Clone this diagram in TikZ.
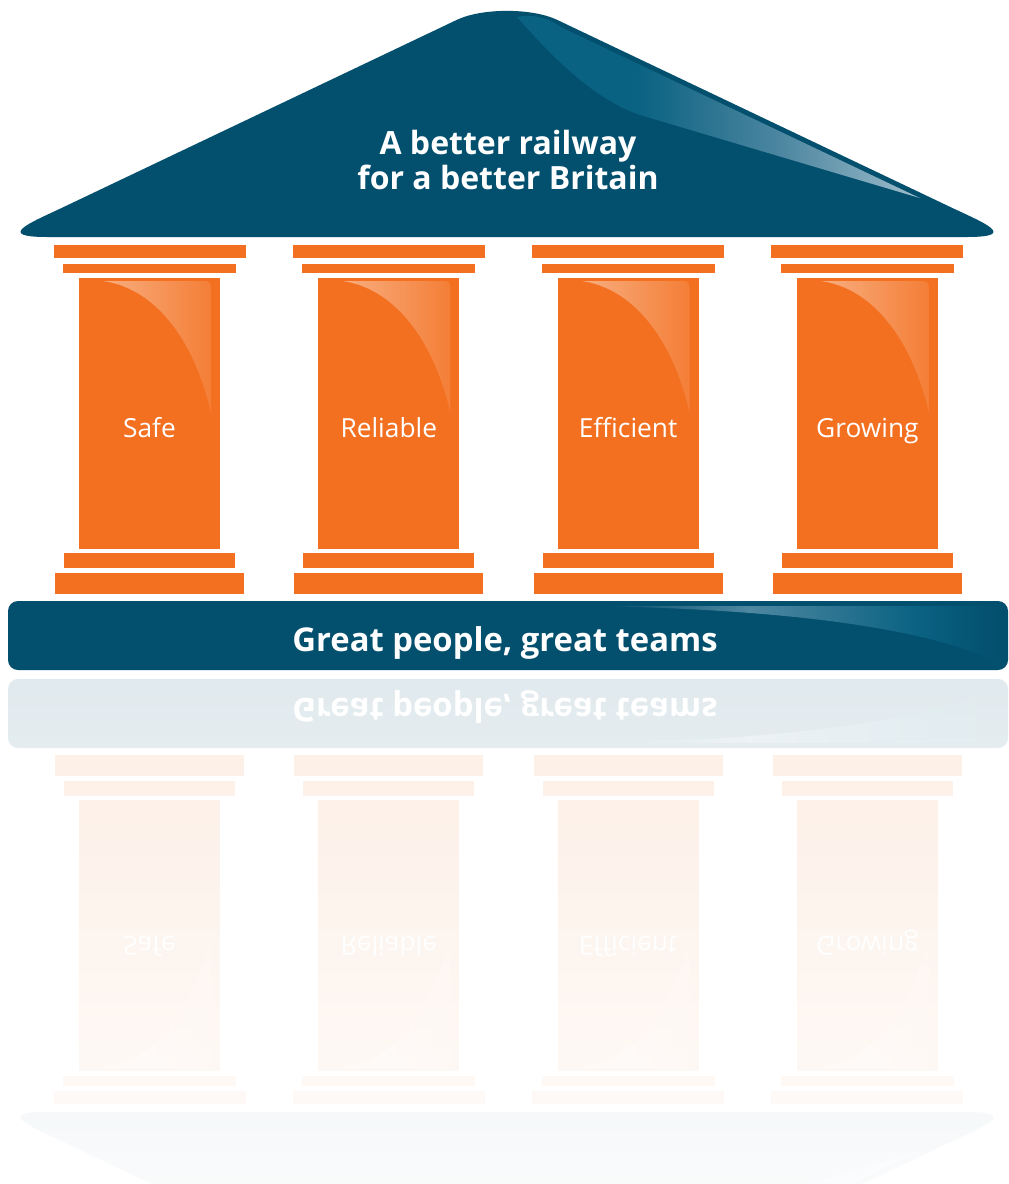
\documentclass[tikz,border=0pt]{standalone}
\usepackage{fontspec}
\setmainfont{Open Sans}
\usetikzlibrary{fadings}

% base palette
\definecolor{baseBlue}{HTML}{034F6E}
\definecolor{baseOrange}{HTML}{F37021}
\definecolor{baseShineTeal}{HTML}{0A6282}
\definecolor{baseShineGrey}{HTML}{4E87A1}
\definecolor{baseShineLight}{HTML}{9EBDCB}
\definecolor{basePeach}{HTML}{F8AE80}
\definecolor{basePeachEnd}{HTML}{F47E36}

% working palette, washed towards white by #1 percent
\newcommand\setpalette[1]{%
  \colorlet{nrBlue}{baseBlue!#1!white}%
  \colorlet{nrOrange}{baseOrange!#1!white}%
  \colorlet{shineTeal}{baseShineTeal!#1!white}%
  \colorlet{shineGrey}{baseShineGrey!#1!white}%
  \colorlet{shineLight}{baseShineLight!#1!white}%
  \colorlet{peach}{basePeach!#1!white}%
  \colorlet{peachEnd}{basePeachEnd!#1!white}%
}
\setpalette{100}

\pgfdeclarehorizontalshading[nrBlue,shineGrey,shineTeal]{bandshine}{100bp}{%
  color(0bp)=(nrBlue); color(25bp)=(nrBlue); color(44bp)=(shineGrey);
  color(65bp)=(shineTeal); color(75bp)=(nrBlue); color(100bp)=(nrBlue)}
\pgfdeclarehorizontalshading[shineTeal,shineGrey,shineLight]{roofshine}{100bp}{%
  color(0bp)=(shineTeal); color(25bp)=(shineTeal); color(40bp)=(shineTeal);
  color(58bp)=(shineGrey); color(75bp)=(shineLight); color(100bp)=(shineLight)}

\tikzfading[name=reflfade, top color=transparent!100, bottom color=transparent!18]

\tikzset{
  headline/.style={text=white, font=\fontsize{32}{35}\selectfont\bfseries, align=center, inner sep=0pt},
  bandline/.style={text=white, font=\fontsize{32.8}{36}\selectfont\bfseries, anchor=base, inner sep=0pt},
  pillarlabel/.style={text=white, font=\fontsize{26.3}{30}\selectfont, anchor=base, inner sep=0pt},
}

% the temple below the roof text; #1 prefixes the node names,
% #2 is the baseline of the pillar labels
\newcommand\temple[2]{%
  % roof
  \fill[nrBlue] (47,237) -- (967,237) .. controls (1020,237) and (982,222) .. (952,207.8)
    -- (557,19.8) .. controls (532,7.9) and (482,7.9) .. (457,19.8)
    -- (62,207.8) .. controls (32,222) and (-6,237) .. (47,237) -- cycle;
  \shade[shading=roofshine] (517,17) .. controls (532,14) and (547,17) .. (562,27.6)
    -- (920,198.1) -- (640,115) .. controls (592,99) and (548,52) .. (517,17) -- cycle;
  % pillars
  \foreach \cx/\lab/\nm in {149.5/Safe/safe, 388.8/Reliable/reliable,
                            628.1/Efficient/efficient, 867.4/Growing/growing}{
    \fill[nrOrange] (\cx-96,245) rectangle (\cx+96,258);
    \fill[nrOrange] (\cx-86.5,263.5) rectangle (\cx+86.5,273);
    \fill[nrOrange] (\cx-70.5,278) rectangle (\cx+70.5,549);
    \fill[nrOrange] (\cx-85.5,553) rectangle (\cx+85.5,568);
    \fill[nrOrange] (\cx-94.5,573) rectangle (\cx+94.5,594);
    \shade[left color=peach, right color=peachEnd]
      (\cx-46.5,281) .. controls (\cx+4.5,288) and (\cx+44.5,338) .. (\cx+61.5,413)
      -- (\cx+61.5,292) .. controls (\cx+61.5,281) .. (\cx+50.5,281) -- cycle;
    \node[pillarlabel] (#1\nm) at (\cx,#2) {\lab};
  }
  % base band
  \fill[nrBlue, rounded corners=10] (8,601) rectangle (1008,670);
  \shade[shading=bandshine] (597,606) -- (990,606) .. controls (997,606) .. (997,613)
    -- (997,662) .. controls (930,630) and (800,610) .. (597,606) -- cycle;
  \node[bandline] (#1band) at (505,651) {Great people, great teams};
}

\begin{document}
\begin{tikzpicture}[x=1pt, y=-1pt]
  \useasboundingbox (0,0) rectangle (1009,1184);
  \fill[white] (0,0) rectangle (1009,1184);
  \temple{}{437}
  \node[headline] (roof) at (508,160) {A better railway\\for a better Britain};
  % mirrored copy below the band
  \begin{scope}[yshift=-1349pt, yscale=-1, transform shape]
    \setpalette{12}
    \temple{r-}{413}
  \end{scope}
  \fill[white, path fading=reflfade] (0,676) rectangle (1009,1184);
\end{tikzpicture}
\end{document}
